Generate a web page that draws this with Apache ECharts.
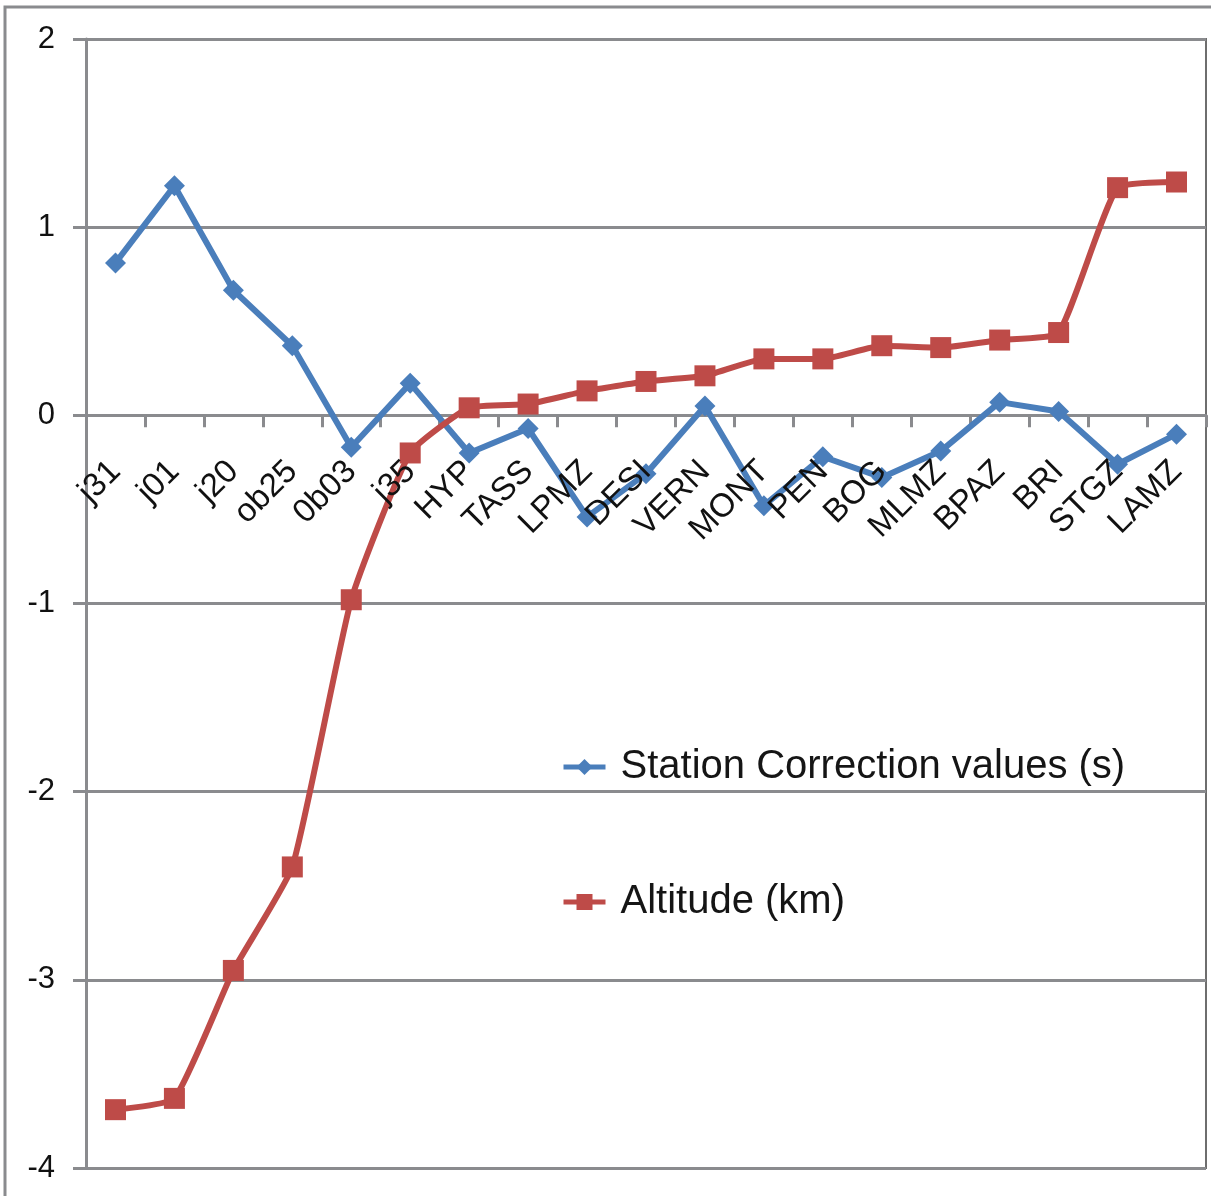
<!DOCTYPE html>
<html>
<head>
<meta charset="utf-8">
<script src="https://cdn.jsdelivr.net/npm/echarts@6/dist/echarts.min.js"></script>
<style>
html,body{margin:0;padding:0;background:#fff;}
#chart{width:1211px;height:1196px;}
</style>
</head>
<body>
<div id="chart"></div>
<script>
const categories = ['j31','j01','j20','ob25','0b03','j35','HYP','TASS','LPMZ','DESI','VERN','MONT','PEN','BOG','MLMZ','BPAZ','BRI','STGZ','LAMZ'];
const stationCorrection = [0.81,1.22,0.665,0.37,-0.17,0.17,-0.20,-0.07,-0.54,-0.31,0.05,-0.48,-0.22,-0.33,-0.19,0.07,0.02,-0.26,-0.10];
const altitude = [-3.69,-3.63,-2.95,-2.40,-0.98,-0.20,0.04,0.06,0.13,0.18,0.21,0.30,0.30,0.37,0.36,0.40,0.44,1.21,1.24];
const yTicks = {min:-4, max:2, interval:1};
const seriesNames = ['Station Correction values (s)','Altitude (km)'];

const gray = '#8a8b8e';
const font = '"Liberation Sans", Arial, sans-serif';
const gridTop = 39, gridBottom = 28, H = 1196;
const plotH = H - gridTop - gridBottom;
// distance from the bottom of the plot to the zero line
const zeroOffset = plotH * (0 - yTicks.min) / (yTicks.max - yTicks.min);

const chart = echarts.init(document.getElementById('chart'));
chart.setOption({
  backgroundColor:'#fff',
  animation:false,
  graphic:[{
    type:'rect', z:-10,
    shape:{x:5,y:7,width:1240,height:1240},
    style:{fill:'none',stroke:gray,lineWidth:3}
  }],
  grid:{left:86,right:5,top:gridTop,bottom:gridBottom,containLabel:false,outerBoundsMode:'none',
        show:true,borderColor:'#6e6e6e',borderWidth:2,backgroundColor:'transparent'},
  legend:{
    orient:'vertical', left:556, top:740, itemGap:91,
    itemWidth:42, itemHeight:20,
    lineStyle:{width:5},
    textStyle:{fontFamily:font,fontSize:40,color:'#151515',lineHeight:44,padding:[0,0,0,10]},
    data:seriesNames
  },
  xAxis:[{
    type:'category', data:categories, boundaryGap:true,
    position:'bottom', offset:-zeroOffset,
    axisLine:{onZero:false,lineStyle:{color:gray,width:3}},
    axisTick:{show:true,length:12,lineStyle:{color:gray,width:3}},
    axisLabel:{show:false},
    splitLine:{show:false}
  },{
    type:'category', data:categories, boundaryGap:true, z:5,
    position:'bottom', offset:-zeroOffset,
    axisLine:{show:false,onZero:false},
    axisTick:{show:false},
    axisLabel:{rotate:45,margin:51,fontFamily:font,fontSize:33,color:'#111',interval:0},
    splitLine:{show:false}
  }],
  yAxis:{
    type:'value', min:yTicks.min, max:yTicks.max, interval:yTicks.interval,
    axisLine:{show:true,lineStyle:{color:gray,width:3}},
    axisTick:{show:true,length:13,lineStyle:{color:gray,width:3}},
    axisLabel:{margin:31,fontFamily:font,fontSize:31,color:'#111'},
    splitLine:{show:true,lineStyle:{color:gray,width:3}}
  },
  series:[
    {name:seriesNames[0],type:'line',data:stationCorrection,
     symbol:'diamond',symbolSize:21,
     lineStyle:{color:'#4a7ebb',width:6},
     itemStyle:{color:'#4a7ebb'}},
    {name:seriesNames[1],type:'line',data:altitude,smooth:0.15,
     symbol:'rect',symbolSize:21,
     lineStyle:{color:'#be4b48',width:6},
     itemStyle:{color:'#be4b48'}}
  ]
});
</script>
</body>
</html>
